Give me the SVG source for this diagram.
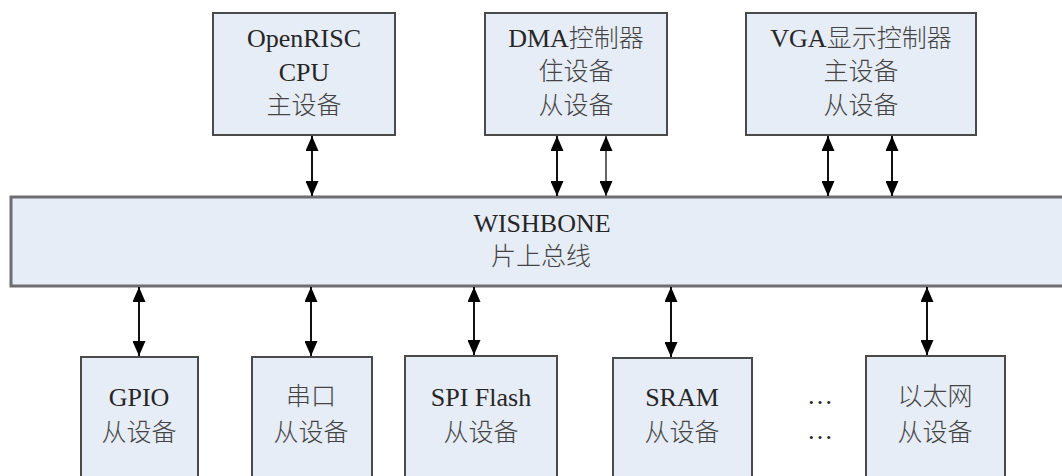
<svg xmlns="http://www.w3.org/2000/svg" width="1062" height="476" viewBox="0 0 1062 476">
<style>
.box{fill:#e6edf7;stroke:#4a4a4a;stroke-width:2}
.bus{fill:#e6edf7;stroke:#6e6e6e;stroke-width:3}
.t{font-family:"Liberation Serif","Noto Sans CJK SC",serif;font-size:26px;fill:#262626;text-anchor:middle}
.c{font-family:"Noto Sans CJK SC",sans-serif;font-size:25px;fill:#444;text-anchor:middle;font-weight:300}
.a{stroke:#111;stroke-width:2;fill:none;marker-start:url(#ah);marker-end:url(#ah)}
</style>
<defs>
<marker id="ah" viewBox="0 0 15 13" refX="15" refY="6.5" markerWidth="15" markerHeight="13" markerUnits="userSpaceOnUse" orient="auto-start-reverse">
<path d="M0,0 L15,6.5 L0,13 Z" fill="#000"/>
</marker>
</defs>
<rect width="1062" height="476" fill="#fff"/>
<g id="bus">
<rect class="bus" x="11" y="197" width="1070" height="89"/>
<text class="t" x="542" y="232">WISHBONE</text>
<text class="c" x="541" y="265">片上总线</text>
</g>
<g id="cpu">
<rect class="box" x="213" y="13" width="182" height="122"/>
<text class="t" x="304" y="47">OpenRISC</text>
<text class="t" x="304" y="81">CPU</text>
<text class="c" x="304" y="114">主设备</text>
</g>
<g id="dma">
<rect class="box" x="485" y="13" width="182" height="122"/>
<text class="t" x="576" y="47">DMA<tspan font-family="Noto Sans CJK SC" font-size="25" font-weight="300" fill="#444">控制器</tspan></text>
<text class="c" x="576" y="80">住设备</text>
<text class="c" x="576" y="114">从设备</text>
</g>
<g id="vga">
<rect class="box" x="746" y="13" width="230" height="122"/>
<text class="t" x="861" y="47">VGA<tspan font-family="Noto Sans CJK SC" font-size="25" font-weight="300" fill="#444">显示控制器</tspan></text>
<text class="c" x="861" y="80">主设备</text>
<text class="c" x="861" y="114">从设备</text>
</g>
<g id="gpio">
<rect class="box" x="81" y="357" width="117" height="130"/>
<text class="t" x="139" y="406">GPIO</text>
<text class="c" x="139" y="441">从设备</text>
</g>
<g id="uart">
<rect class="box" x="252" y="357" width="120" height="130"/>
<text class="c" x="311" y="405">串口</text>
<text class="c" x="311" y="441">从设备</text>
</g>
<g id="spi">
<rect class="box" x="405" y="356" width="152" height="130"/>
<text class="t" x="481" y="406">SPI Flash</text>
<text class="c" x="481" y="441">从设备</text>
</g>
<g id="sram">
<rect class="box" x="613" y="358" width="139" height="130"/>
<text class="t" x="682" y="406">SRAM</text>
<text class="c" x="682" y="441">从设备</text>
</g>
<g id="dots">
<text class="t" x="820" y="404">…</text>
<text class="t" x="820" y="439">…</text>
</g>
<g id="eth">
<rect class="box" x="866" y="356" width="139" height="130"/>
<text class="c" x="935" y="405">以太网</text>
<text class="c" x="935" y="441">从设备</text>
</g>
<g id="connectors">
<line class="a" x1="312" y1="136" x2="312" y2="196"/>
<line class="a" x1="557" y1="136" x2="557" y2="196"/>
<line class="a" x1="606" y1="136" x2="606" y2="196" style="stroke:#666"/>
<line class="a" x1="828" y1="136" x2="828" y2="196"/>
<line class="a" x1="892" y1="136" x2="892" y2="196"/>
<line class="a" x1="139" y1="287" x2="139" y2="356"/>
<line class="a" x1="311" y1="287" x2="311" y2="356"/>
<line class="a" x1="474" y1="287" x2="474" y2="355"/>
<line class="a" x1="671" y1="287" x2="671" y2="357"/>
<line class="a" x1="927" y1="287" x2="927" y2="355"/>
</g>
</svg>
